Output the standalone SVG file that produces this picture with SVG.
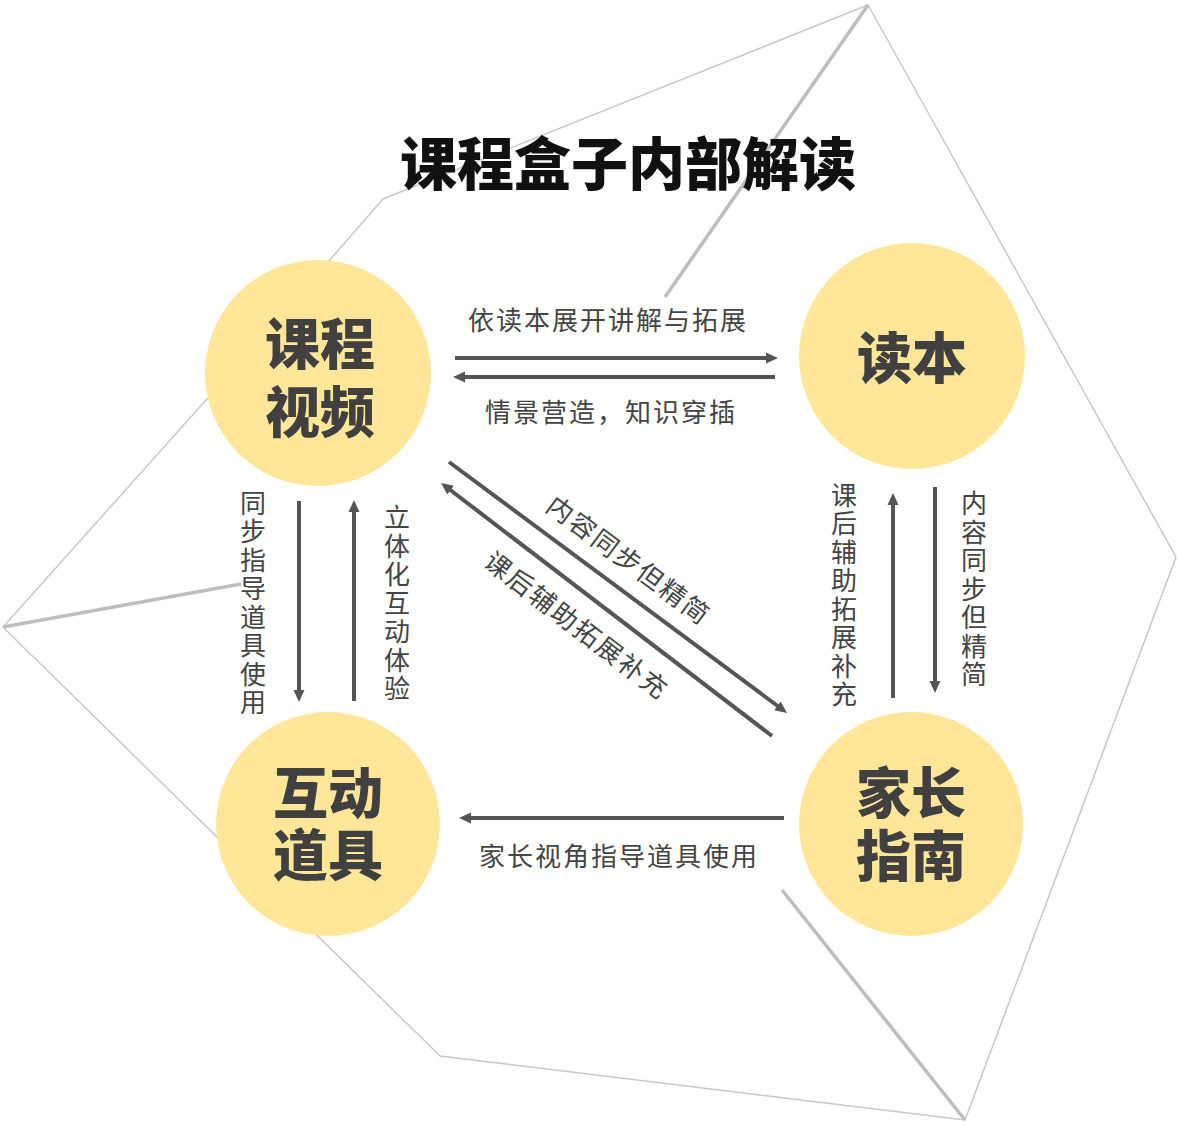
<svg xmlns="http://www.w3.org/2000/svg" width="1178" height="1125" viewBox="0 0 1178 1125">
<style>
.bg{fill:#ffffff}
.poly{stroke:#c8c8c8;stroke-width:1.5;fill:none}
.polyk{stroke:#bdbdbd;stroke-width:3.5;fill:none}
.node{fill:#FFE699}
.nlab{font-family:"Noto Sans CJK SC","Noto Sans",sans-serif;font-weight:900;font-size:55px;fill:#404040;text-anchor:middle}
.title{font-family:"Noto Sans CJK SC","Noto Sans",sans-serif;font-weight:900;font-size:57px;fill:#111111;text-anchor:middle}
.lab{font-family:"Noto Sans CJK SC","Noto Sans",sans-serif;font-size:26px;fill:#444444;text-anchor:middle;letter-spacing:2px}
.vlab{font-family:"Noto Sans CJK SC","Noto Sans",sans-serif;font-size:26px;fill:#444444;text-anchor:middle;letter-spacing:2.5px;writing-mode:vertical-rl}
.arr{stroke:#555555;stroke-width:4;fill:none;marker-end:url(#ah)}
</style>
<defs>
<marker id="ah" viewBox="0 0 12 12" refX="2" refY="6" markerWidth="12" markerHeight="12" markerUnits="userSpaceOnUse" orient="auto">
<path d="M0,0.5 L12,6 L0,11.5 z" fill="#555555"/>
</marker>
</defs>
<rect class="bg" x="0" y="0" width="1178" height="1125"/>
<g id="background-shape">
<path class="poly" d="M868,5 L383,199 L328,262"/>
<path class="poly" d="M215,390 L3,627 L440,1056 L965,1120 L1176,557 L868,5"/>
<path class="polyk" d="M868,5 L665,297"/>
<path class="polyk" d="M3,627 L241,584"/>
<path class="polyk" d="M782,890 L965,1120"/>
</g>
<g id="title">
<text class="title" x="628" y="185">课程盒子内部解读</text>
</g>
<g id="connectors">
<line class="arr" x1="455" y1="358" x2="768" y2="358"/>
<line class="arr" x1="775" y1="377" x2="463" y2="377"/>
<line class="arr" x1="299" y1="501" x2="299" y2="692"/>
<line class="arr" x1="354" y1="701" x2="354" y2="510"/>
<line class="arr" x1="893" y1="698" x2="893" y2="503"/>
<line class="arr" x1="935" y1="487" x2="935" y2="683"/>
<line class="arr" x1="449" y1="462" x2="779" y2="707"/>
<line class="arr" x1="772" y1="736" x2="449" y2="489"/>
<line class="arr" x1="784" y1="818" x2="469" y2="818"/>
<text class="lab" x="608" y="330">依读本展开讲解与拓展</text>
<text class="lab" x="611" y="422">情景营造，知识穿插</text>
<text class="lab" x="619" y="866">家长视角指导道具使用</text>
<text class="vlab" x="253" y="604">同步指导道具使用</text>
<text class="vlab" x="397" y="604">立体化互动体验</text>
<text class="vlab" x="844" y="596">课后辅助拓展补充</text>
<text class="vlab" x="974" y="590">内容同步但精简</text>
<text class="lab" x="629" y="570" transform="rotate(36.6 629 560)">内容同步但精简</text>
<text class="lab" x="577" y="635" transform="rotate(37.4 577 625)">课后辅助拓展补充</text>
</g>
<g id="node-video">
<circle class="node" cx="318" cy="373" r="113"/>
<text class="nlab" x="320" y="364">课程<tspan x="320" dy="68">视频</tspan></text>
</g>
<g id="node-book">
<circle class="node" cx="912" cy="356" r="113"/>
<text class="nlab" x="912" y="378">读本</text>
</g>
<g id="node-props">
<circle class="node" cx="328" cy="824" r="112"/>
<text class="nlab" x="328" y="813">互动<tspan x="328" dy="62">道具</tspan></text>
</g>
<g id="node-guide">
<circle class="node" cx="911" cy="824" r="112"/>
<text class="nlab" x="911" y="813">家长<tspan x="911" dy="63">指南</tspan></text>
</g>
</svg>
